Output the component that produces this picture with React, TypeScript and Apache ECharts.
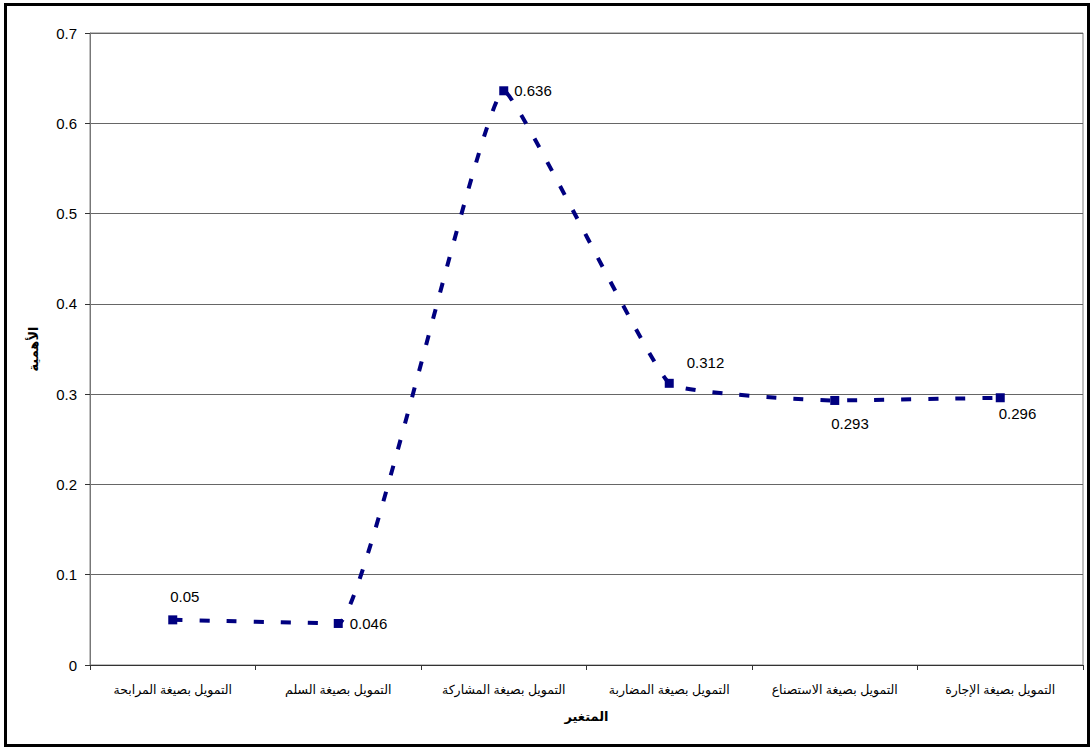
import React, { useEffect, useRef } from "react";
import * as echarts from "echarts";

const categories = [
  "التمويل بصيغة المرابحة",
  "التمويل بصيغة السلم",
  "التمويل بصيغة المشاركة",
  "التمويل بصيغة المضاربة",
  "التمويل بصيغة الاستصناع",
  "التمويل بصيغة الإجارة",
];
const values = [0.05, 0.046, 0.636, 0.312, 0.293, 0.296];
const labelOffsets: [number, number][] = [
  [-12, -23],
  [2, 0],
  [1, 0],
  [8, -21],
  [-13, 23],
  [-11, 16],
];
const xAxisTitle = "المتغير";
const yAxisTitle = "الأهمية";

const FONT = "'Liberation Sans', Arial, 'DejaVu Sans', sans-serif";

export default function App() {
  const ref = useRef<HTMLDivElement>(null);
  useEffect(() => {
    if (!ref.current) return;
    const chart = echarts.init(ref.current, undefined, { renderer: "svg" });
    chart.setOption({
      animation: false,
      backgroundColor: "#fff",
      textStyle: { fontFamily: FONT },
      graphic: [
        {
          type: "rect",
          shape: { x: 5.5, y: 4.5, width: 1083, height: 741 },
          style: { fill: "none", stroke: "#000", lineWidth: 3 },
          z: 100,
        },
      ],
      grid: {
        left: 90,
        right: 8,
        top: 33,
        bottom: 83,
        show: true,
        borderColor: "#808080",
        borderWidth: 1,
        backgroundColor: "transparent",
      },
      xAxis: {
        type: "category",
        data: categories,
        boundaryGap: true,
        name: xAxisTitle,
        nameLocation: "middle",
        nameGap: 45,
        nameTextStyle: { fontSize: 13, fontWeight: "bold", color: "#000", fontFamily: FONT },
        axisLine: { lineStyle: { color: "#333", width: 1 } },
        axisTick: { show: true, length: 5, alignWithLabel: false, lineStyle: { color: "#333" } },
        axisLabel: { fontSize: 12.5, color: "#000", margin: 18, interval: 0, fontFamily: FONT },
        splitLine: { show: false },
      },
      yAxis: {
        type: "value",
        min: 0,
        max: 0.7,
        interval: 0.1,
        name: yAxisTitle,
        nameLocation: "middle",
        nameGap: 50,
        nameTextStyle: { fontSize: 13, fontWeight: "bold", color: "#000", fontFamily: FONT },
        axisLine: { show: true, lineStyle: { color: "#777", width: 1 } },
        axisTick: { show: true, length: 5, lineStyle: { color: "#333" } },
        axisLabel: {
          fontSize: 15,
          color: "#000",
          margin: 13,
          formatter: (v: number) => (Math.round(v * 10) / 10).toString(),
        },
        splitLine: { show: true, lineStyle: { color: "#666", width: 1 } },
      },
      series: [
        {
          type: "line",
          data: values.map((v, i) => ({
            value: v,
            label: {
              show: true,
              position: "right",
              distance: 5,
              offset: labelOffsets[i],
              formatter: String(v),
              fontSize: 15,
              color: "#000",
              fontFamily: FONT,
            },
          })),
          smooth: 0.1,
          symbol: "rect",
          symbolSize: 9,
          itemStyle: { color: "#000080" },
          lineStyle: { color: "#000080", width: 4, type: [10, 17] },
        },
      ],
    });
    return () => chart.dispose();
  }, []);
  return (
    <div
      ref={ref}
      style={{ position: "fixed", left: 0, top: 0, width: 1091, height: 748 }}
    />
  );
}
